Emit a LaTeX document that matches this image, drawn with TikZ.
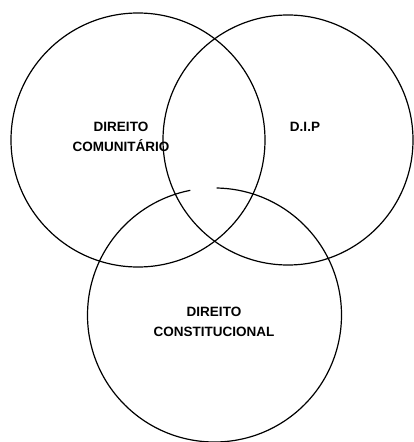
\documentclass[tikz,border=0pt]{standalone}
\usepackage{fontspec}
\setmainfont{Liberation Sans}
\begin{document}
\begin{tikzpicture}[x=1pt,y=-1pt,
  ring/.style={draw=black,line width=1.2pt},
  lbl/.style={font=\bfseries\fontsize{13.5}{20}\selectfont,align=center,inner sep=0pt}]
\useasboundingbox (0,0) rectangle (414,442);
\draw[ring] (138,140) circle[radius=127];
\draw[ring] (288,140) circle[radius=125];
\draw[ring] (214.5,315) ++(271:127) arc[start angle=271,end angle=619,radius=127];
\node[lbl] (dc) at (121,137) {DIREITO\\COMUNITÁRIO};
\node[lbl] (dip) at (305,127) {D.I.P};
\node[lbl] (cons) at (214,322) {DIREITO\\CONSTITUCIONAL};
\end{tikzpicture}
\end{document}
